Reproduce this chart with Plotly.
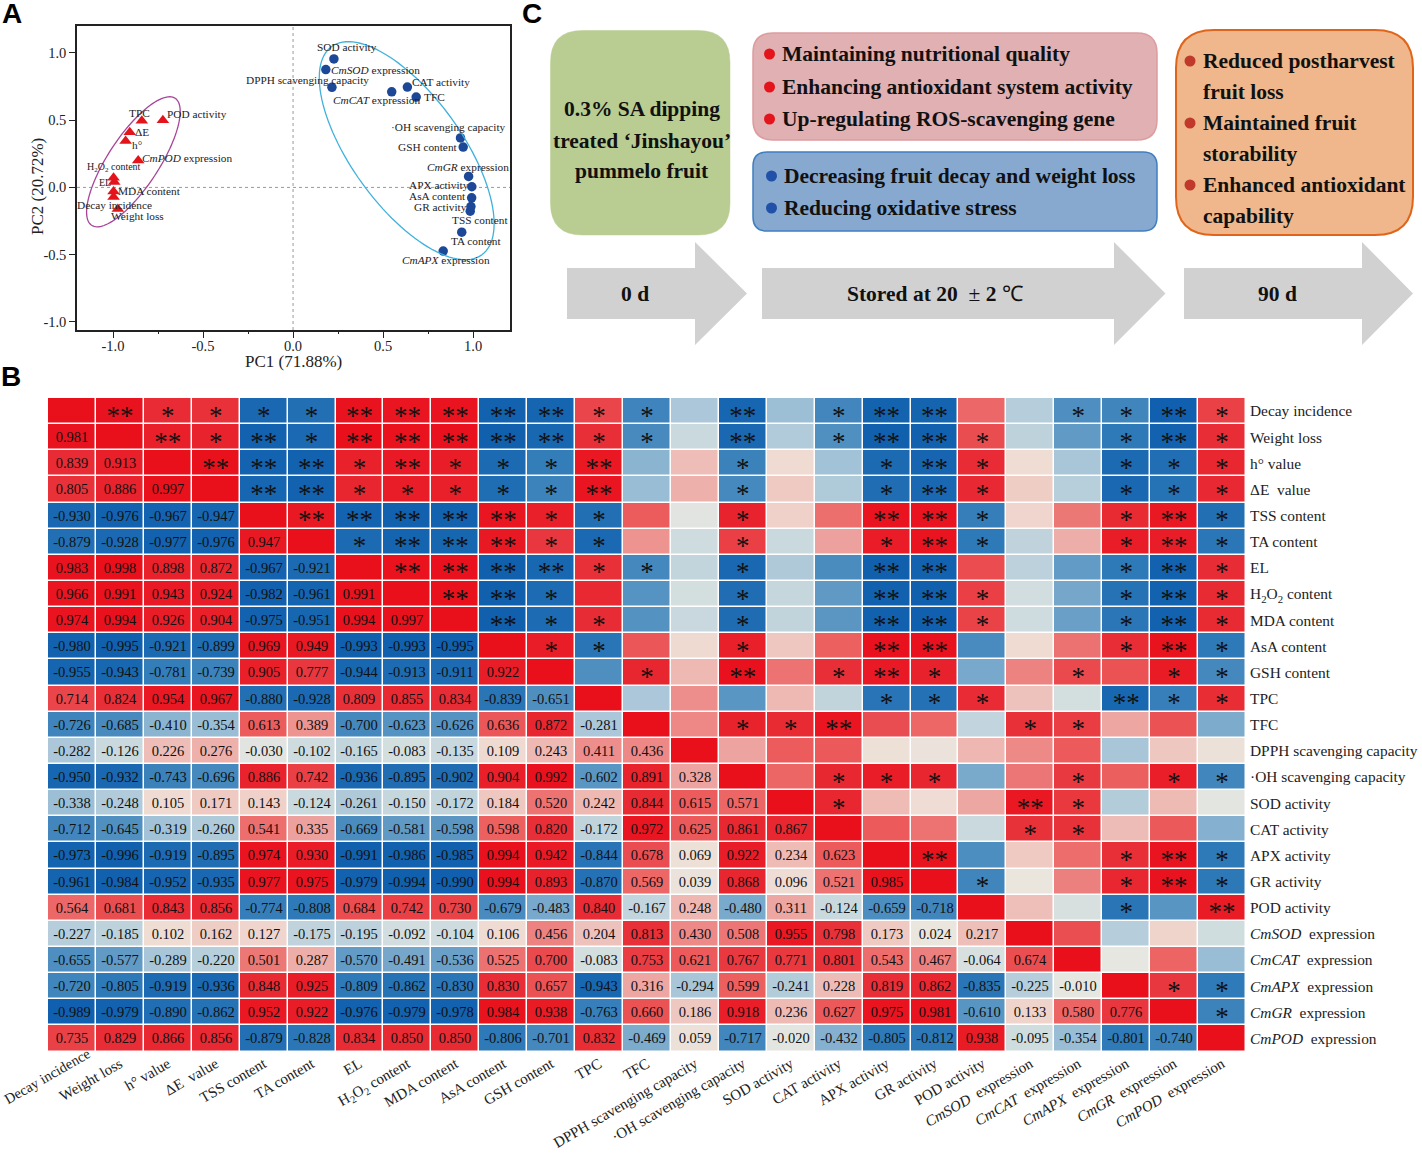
import numpy as np
import plotly.graph_objects as go

# ---------- Panel B data ----------
LABELS = ["Decay incidence", "Weight loss", "h° value", "ΔE\u00a0 value", "TSS content", "TA content", "EL",
          "H<sub>2</sub>O<sub>2</sub> content", "MDA content", "AsA content", "GSH content", "TPC", "TFC",
          "DPPH scavenging capacity", "·OH scavenging capacity", "SOD activity", "CAT activity", "APX activity",
          "GR activity", "POD activity", "<i>CmSOD</i>\u00a0 expression", "<i>CmCAT</i>\u00a0 expression",
          "<i>CmAPX</i>\u00a0 expression", "<i>CmGR</i>\u00a0 expression", "<i>CmPOD</i>\u00a0 expression"]
LOWER = [
    [],
    [.981],
    [.839, .913],
    [.805, .886, .997],
    [-.930, -.976, -.967, -.947],
    [-.879, -.928, -.977, -.976, .947],
    [.983, .998, .898, .872, -.967, -.921],
    [.966, .991, .943, .924, -.982, -.961, .991],
    [.974, .994, .926, .904, -.975, -.951, .994, .997],
    [-.980, -.995, -.921, -.899, .969, .949, -.993, -.993, -.995],
    [-.955, -.943, -.781, -.739, .905, .777, -.944, -.913, -.911, .922],
    [.714, .824, .954, .967, -.880, -.928, .809, .855, .834, -.839, -.651],
    [-.726, -.685, -.410, -.354, .613, .389, -.700, -.623, -.626, .636, .872, -.281],
    [-.282, -.126, .226, .276, -.030, -.102, -.165, -.083, -.135, .109, .243, .411, .436],
    [-.950, -.932, -.743, -.696, .886, .742, -.936, -.895, -.902, .904, .992, -.602, .891, .328],
    [-.338, -.248, .105, .171, .143, -.124, -.261, -.150, -.172, .184, .520, .242, .844, .615, .571],
    [-.712, -.645, -.319, -.260, .541, .335, -.669, -.581, -.598, .598, .820, -.172, .972, .625, .861, .867],
    [-.973, -.996, -.919, -.895, .974, .930, -.991, -.986, -.985, .994, .942, -.844, .678, .069, .922, .234, .623],
    [-.961, -.984, -.952, -.935, .977, .975, -.979, -.994, -.990, .994, .893, -.870, .569, .039, .868, .096, .521, .985],
    [.564, .681, .843, .856, -.774, -.808, .684, .742, .730, -.679, -.483, .840, -.167, .248, -.480, .311, -.124, -.659, -.718],
    [-.227, -.185, .102, .162, .127, -.175, -.195, -.092, -.104, .106, .456, .204, .813, .430, .508, .955, .798, .173, .024, .217],
    [-.655, -.577, -.289, -.220, .501, .287, -.570, -.491, -.536, .525, .700, -.083, .753, .621, .767, .771, .801, .543, .467, -.064, .674],
    [-.720, -.805, -.919, -.936, .848, .925, -.809, -.862, -.830, .830, .657, -.943, .316, -.294, .599, -.241, .228, .819, .862, -.835, -.225, -.010],
    [-.989, -.979, -.890, -.862, .952, .922, -.976, -.979, -.978, .984, .938, -.763, .660, .186, .918, .236, .627, .975, .981, -.610, .133, .580, .776],
    [.735, .829, .866, .856, -.879, -.828, .834, .850, .850, -.806, -.701, .832, -.469, .059, -.717, -.020, -.432, -.805, -.812, .938, -.095, -.354, -.801, -.740],
]
# significance stars above the diagonal: one digit per cell, starting right of the diagonal
STARS = [
    "211112222211020122001121",
    "21212222211020122100121",
    "2221211120010012100111",
    "221111120010012100111",
    "22222110010022100121",
    "1222110010012100121",
    "222211010022000121",
    "22100010022100121",
    "2110010022100121",
    "110010022000121",
    "01020121001011",
    "0000011100211",
    "011200011000",
    "00000000000",
    "0111001011",
    "100021000",
    "00011000",
    "2000121",
    "100121",
    "00102",
    "0000",
    "000",
    "11",
    "1",
]

# ---------- Panel A data ----------
PC1_UP = [-.997, -.973, -.93, -.907, -.993, -.997, -.997, -.84, -.723, -.86]
PC2_UP = [-.072, -.16, .345, .41, .04, .072, -.03, .495, .50, .20]
NAMES_UP = ["Decay incidence", "Weight loss", "h°", "ΔE", "EL", "H<sub>2</sub>O<sub>2</sub> content", "MDA content",
            "TPC", "POD activity", "<i>CmPOD</i> expression"]
PC1_DOWN = [.984, .937, .993, .992, .945, .684, .93, .227, .635, .988, .182, .548, .834, .975, .216]
PC2_DOWN = [-.177, -.333, .005, -.077, .30, .672, .368, .955, .746, -.142, .876, .711, -.473, .082, .744]
NAMES_DOWN = ["TSS content", "TA content", "APX activity", "AsA content", "GSH content", "TFC",
              "·OH scavenging capacity", "SOD activity", "CAT activity", "GR activity", "<i>CmSOD</i> expression",
              "<i>CmCAT</i> expression", "<i>CmAPX</i> expression", "<i>CmGR</i> expression",
              "DPPH scavenging capacity"]
# label offsets from its point, pixels (right, up)
OFF_UP = [(1, -7.5), (20, -7), (11, -4), (12, 0), (-9, 0), (0, 10), (36, 0), (-2, 7.5), (34, 6), (49, 3)]
OFF_DOWN = [(10, -9), (14.5, -8.5), (-33, 2), (-34, 2), (-35, 0), (18, 0), (-12, 10.5), (13, 11.5), (34, 5), (-30, 0),
            (50, 0), (-15.5, -8), (3, -9), (-1, 9), (-24, 7)]

# ---------- layout constants ----------
W, H = 1422, 1155
SERIF = "Liberation Serif"
def fx(p): return p / W
def fy(p): return 1 - p / H

CSCALE = [[0, "#0f5fae"], [.1, "#2f7ab8"], [.2, "#5a96c3"], [.35, "#a7c5d8"], [.45, "#cfdcdf"], [.5, "#e8e8e0"],
          [.55, "#efdcd3"], [.65, "#edaaa6"], [.8, "#ec5f5f"], [.9, "#e8323a"], [1, "#e9101c"]]

n = len(LABELS)
M = np.eye(n)
TXT = [["" for _ in range(n)] for _ in range(n)]
for i, row in enumerate(LOWER):
    for j, v in enumerate(row):
        M[i, j] = M[j, i] = v
        TXT[i][j] = f"{v:.3f}"
sx, sy, st = [], [], []
for i, row in enumerate(STARS):
    for k, c in enumerate(row):
        if c != "0":
            sx.append(i + 1 + k); sy.append(i); st.append("*" * int(c))

fig = go.Figure()
# Panel A
fig.add_trace(go.Scatter(x=PC1_UP, y=PC2_UP, mode="markers", xaxis="x", yaxis="y", showlegend=False,
                         marker=dict(symbol="triangle-up", size=11, color="#e3141c")))
fig.add_trace(go.Scatter(x=PC1_DOWN, y=PC2_DOWN, mode="markers", xaxis="x", yaxis="y", showlegend=False,
                         marker=dict(symbol="circle", size=9.5, color="#1c4897")))
# Panel B
fig.add_trace(go.Heatmap(z=M.tolist(), x=list(range(n)), y=list(range(n)), text=TXT, texttemplate="%{text}",
                         textfont=dict(family=SERIF, size=14.5, color="#111111"), xgap=1.5, ygap=1.5,
                         colorscale=CSCALE, zmin=-1, zmax=1, showscale=False, xaxis="x2", yaxis="y2", hoverinfo="skip"))
STAR_DROP = 0.26
fig.add_trace(go.Scatter(x=sx, y=[v + STAR_DROP for v in sy], text=st, mode="text", xaxis="x2", yaxis="y2",
                         showlegend=False, textposition="middle center",
                         textfont=dict(family=SERIF, size=27, color="#111111"), hoverinfo="skip"))

ann = []
for xs, ys, names, offs in ((PC1_UP, PC2_UP, NAMES_UP, OFF_UP), (PC1_DOWN, PC2_DOWN, NAMES_DOWN, OFF_DOWN)):
    for a, b, nm, (dx, dy) in zip(xs, ys, names, offs):
        small = nm.startswith("H<sub>") or nm == "EL"
        ann.append(dict(x=a, y=b, xref="x", yref="y", text=nm, showarrow=False, xshift=dx, yshift=dy,
                        font=dict(family=SERIF, size=10 if small else 11.3, color="#222222")))

def put(text, x, y, size=21.5, anchor="left", family=SERIF, bold=True, color="#111111", angle=0):
    ann.append(dict(x=fx(x), y=fy(y), xref="paper", yref="paper", text=f"<b>{text}</b>" if bold else text,
                    showarrow=False, xanchor=anchor, yanchor="middle", textangle=angle,
                    font=dict(family=family, size=size, color=color)))

for t, x, y in (("A", 0, 14), ("B", -1, 376), ("C", 520, 14)):
    put(t, x, y, size=28, family="Liberation Sans", color="#000000")
put("PC1 (71.88%)", 293, 362, size=17, anchor="center", bold=False, color="#222222")
put("PC2 (20.72%)", 38, 187, size=17, anchor="center", bold=False, color="#222222", angle=-90)
put(LABELS[0], 47.5, 1076, size=14.5, anchor="center", bold=False, color="#222222", angle=-30)
for t, y in (("0.3% SA dipping", 109), ("treated ‘Jinshayou’", 141), ("pummelo fruit", 171)):
    put(t, 642, y, anchor="center")
for t, y in (("Maintaining nutritional quality", 54), ("Enhancing antioxidant system activity", 87),
             ("Up-regulating ROS-scavenging gene", 119)):
    put(t, 780, y)
for t, y in (("Decreasing fruit decay and weight loss", 176), ("Reducing oxidative stress", 208)):
    put(t, 782, y)
for t, y in (("Reduced postharvest", 61), ("fruit loss", 92), ("Maintained fruit", 123), ("storability", 154),
             ("Enhanced antioxidant", 185), ("capability", 216)):
    put(t, 1201, y)
put("0 d", 635, 294, anchor="center")
put("<b>Stored at 20</b>\u00a0 ± <b>2</b> ℃", 935, 294, anchor="center", bold=False)
put("90 d", 1277, 294, anchor="center")

def rrect(x0, y0, x1, y1, r, fill, line, lw=1.5):
    X0, X1, Y0, Y1, rx, ry = fx(x0), fx(x1), fy(y0), fy(y1), r / W, r / H
    path = (f"M {X0+rx} {Y0} L {X1-rx} {Y0} Q {X1} {Y0} {X1} {Y0-ry} L {X1} {Y1+ry} Q {X1} {Y1} {X1-rx} {Y1} "
            f"L {X0+rx} {Y1} Q {X0} {Y1} {X0} {Y1+ry} L {X0} {Y0-ry} Q {X0} {Y0} {X0+rx} {Y0} Z")
    return dict(type="path", xref="paper", yref="paper", path=path, fillcolor=fill, line=dict(color=line, width=lw), layer="below")

def arrow(x0, xh, xt):
    pts = [(x0, 268), (xh, 268), (xh, 242), (xt, 293.5), (xh, 345), (xh, 319), (x0, 319)]
    path = "M " + " L ".join(f"{fx(a)} {fy(b)}" for a, b in pts) + " Z"
    return dict(type="path", xref="paper", yref="paper", path=path, fillcolor="#d1d1d1", line=dict(width=0), layer="below")

def dot(x, y, color, r=5.5):
    return dict(type="circle", xref="paper", yref="paper", x0=fx(x - r), x1=fx(x + r), y0=fy(y + r), y1=fy(y - r),
                fillcolor=color, line=dict(width=0))

def ellipse(cx, cy, a, b, deg, color):
    th = np.radians(deg)
    t = np.linspace(0, 2 * np.pi, 121)
    X = cx + a * np.cos(t) * np.cos(th) - b * np.sin(t) * np.sin(th)
    Y = cy + a * np.cos(t) * np.sin(th) + b * np.sin(t) * np.cos(th)
    path = "M " + " L ".join(f"{fx(u):.5f} {fy(v):.5f}" for u, v in zip(X, Y)) + " Z"
    return dict(type="path", xref="paper", yref="paper", path=path, line=dict(color=color, width=1.3))

shapes = [
    dict(type="line", xref="x", yref="paper", x0=0, x1=0, y0=fy(330), y1=fy(26),
         line=dict(color="#999999", width=1, dash="dot"), layer="below"),
    dict(type="line", xref="paper", yref="y", x0=fx(77), x1=fx(510), y0=0, y1=0,
         line=dict(color="#999999", width=1, dash="dot"), layer="below"),
    ellipse(406.7, 150.7, 128.4, 55.2, 54.2, "#3fb1dc"),
    ellipse(133.4, 161.8, 76, 25.4, -56.7, "#a8459a"),
    rrect(550.5, 30.5, 730, 235, 32, "#b9cc91", "#b9cc91", 0.5),
    rrect(753, 33, 1157, 140, 20, "#e0b0b2", "#dd9c9e"),
    rrect(753, 152, 1157, 231, 14, "#87a9d0", "#3f7fc0"),
    rrect(1176, 30, 1413, 235, 38, "#efb78b", "#e0651a", 2),
    arrow(567, 695, 747), arrow(762, 1114, 1165.5), arrow(1184, 1362, 1413),
]
shapes += [dot(769.5, y, "#e3141c") for y in (54, 87, 119)]
shapes += [dot(771.5, y, "#2050a8") for y in (176, 208)]
shapes += [dot(1190, y, "#c0392b") for y in (61, 123, 185)]

TICKS_X = [-1.0, -0.5, 0.0, 0.5, 1.0]
TICKS_Y = [1.0, 0.5, 0.0, -0.5, -1.0]
axis_a = dict(showgrid=False, zeroline=False, showline=True, mirror=True, linecolor="#222222", linewidth=1.5,
              ticks="outside", ticklen=6, tickwidth=1.2, tickcolor="#222222",
              tickfont=dict(family=SERIF, size=14.5, color="#222222"))
fig.update_layout(
    width=W, height=H, autosize=False, margin=dict(l=0, r=0, t=0, b=0), paper_bgcolor="white", plot_bgcolor="white",
    showlegend=False, font=dict(family=SERIF, color="#222222"), shapes=shapes, annotations=ann,
    xaxis=dict(domain=[fx(77), fx(510)], range=[-1.2, 1.205], anchor="y", tickvals=TICKS_X,
               ticktext=[f"{v:.1f}" for v in TICKS_X], ticklabelstandoff=-4,
               minor=dict(tickvals=[-0.75, -0.25, 0.25, 0.75], ticks="outside", ticklen=2, tickcolor="#222222"),
               **axis_a),
    yaxis=dict(domain=[fy(330), fy(26)], range=[-1.06, 1.2], anchor="x", tickvals=TICKS_Y,
               ticktext=[f"{v:.1f}" for v in TICKS_Y], **axis_a),
    xaxis2=dict(domain=[fx(48), fx(1246)], range=[-0.5, n - 0.5], anchor="y2", tickvals=list(range(n)),
                ticktext=[""] + LABELS[1:],
                tickangle=-30, ticks="", showgrid=False, zeroline=False, showline=False,
                tickfont=dict(family=SERIF, size=15, color="#222222")),
    yaxis2=dict(domain=[fy(1051.5), fy(398)], range=[n - 0.5, -0.5], anchor="x2", side="right", tickvals=list(range(n)),
                ticktext=LABELS, ticks="", showgrid=False, zeroline=False, showline=False, ticklabelstandoff=3,
                tickfont=dict(family=SERIF, size=15.4, color="#222222")),
)
fig.write_html("out.html", post_script="document.body.style.margin='0';", config=dict(displayModeBar=False))
